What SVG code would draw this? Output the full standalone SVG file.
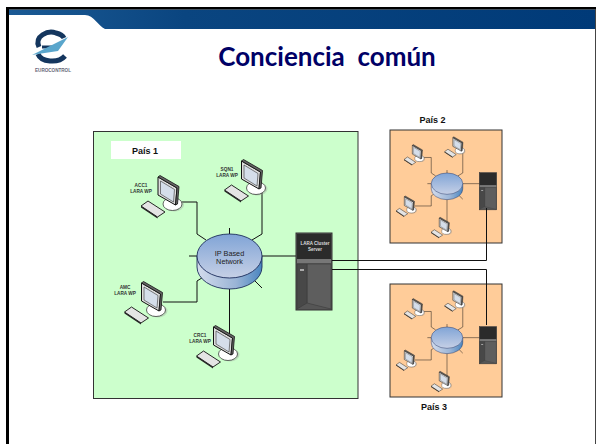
<svg xmlns="http://www.w3.org/2000/svg" width="596" height="444" viewBox="0 0 596 444">
<style>
text{font-family:"Liberation Sans",Arial,sans-serif}
.wp{font-size:4.700px;font-weight:700;fill:#333;text-anchor:middle}
.lbl{font-size:9px;font-weight:700;fill:#111;text-anchor:middle}
.ln{fill:none;stroke:#111;stroke-width:1}
</style>
<defs>
<linearGradient id="band" x1="0" x2="1" y1="0" y2="0"><stop offset="0" stop-color="#1b5a94"/><stop offset=".3" stop-color="#0a4580"/><stop offset="1" stop-color="#003a78"/></linearGradient>
<linearGradient id="hubTop" x1="0" x2="0" y1="0" y2="1"><stop offset="0" stop-color="#80a4d6"/><stop offset="1" stop-color="#c6d0e6"/></linearGradient>
<linearGradient id="hubSide" x1="0" x2="1" y1="0" y2="0"><stop offset="0" stop-color="#d4dcec"/><stop offset=".6" stop-color="#9ab4d6"/><stop offset="1" stop-color="#4a86c0"/></linearGradient>
<g id="pc">
<ellipse cx="2" cy="1" rx="9.500" ry="6.500" fill="#999" opacity=".35"/>
<ellipse cx="0" cy="0" rx="9.500" ry="6.500" fill="#fff" stroke="#222" stroke-width=".7"/>
<path d="M-14.500-27 L4.500-16 L3 1 L-14.500-9Z" fill="#ddd" stroke="#111" stroke-width="1"/>
<path d="M-14.500-27 L-12.500-28.500 L6.500-17.500 L5 0 L3 1 L4.500-16Z" fill="#666" stroke="#111" stroke-width=".8"/>
<path d="M-12-23 L2-14.500 L1-2 L-12-10Z" fill="#d5deea" stroke="#333" stroke-width=".6"/>
<path d="M-31.500 2 L-24.500-3 L-7.500 8 L-15 13Z" fill="#e4e4e4" stroke="#111" stroke-width=".9"/>
<path d="M-31.500 2 L-15 13 L-15 14.500 L-31.500 3.500Z" fill="#222"/>
</g>
<g id="hub">
<path d="M197 256 V267 A32.500 22 0 0 0 262 267 V256Z" fill="url(#hubSide)" stroke="#1c2c5c" stroke-width=".9"/>
<ellipse cx="229.500" cy="256" rx="32.500" ry="22" fill="url(#hubTop)" stroke="#1c2c5c" stroke-width=".9"/>
</g>
<g id="srv">
<rect x="296" y="233" width="36" height="77" fill="#565656" stroke="#333" stroke-width="1"/>
<rect x="297" y="234" width="34" height="25" fill="#2b2b2b"/>
<rect x="297" y="259" width="34" height="4" fill="#777"/>
<path d="M307 264 H331 V309 L307 303Z" fill="#5e5e5e" stroke="#3a3a3a" stroke-width=".6"/>
<path d="M297 309 L307 303 V264 H297Z" fill="#484848" stroke="#3a3a3a" stroke-width=".6"/>
<rect x="300" y="269" width="4" height="2" fill="#aaa"/>
</g>
<g id="wires">
<path class="ln" d="M182 202 H197 V234 L206 240"/>
<path class="ln" d="M262 187 V234 L252 240"/>
<path class="ln" d="M163 302 H197 V281 L205 276"/>
<path class="ln" d="M229.500 288 V347"/>
<path class="ln" d="M229.500 228 V234"/>
<path class="ln" d="M189 256 H197"/>
<path class="ln" d="M252 278 L262 288"/>
<path class="ln" d="M262 256 H301 V261"/>
</g>
</defs>
<rect width="596" height="444" fill="#fff"/>
<g id="slide-frame">
<path d="M9 9.500 H595 V29 H105 C98 26 94 15 85 15 H9Z" fill="url(#band)"/>
<rect x="6" y="7" width="590" height="2.500" fill="#000"/>
<rect x="6" y="7" width="3" height="437" fill="#000"/>
<rect x="595" y="9" width="1" height="435" fill="#444"/>
</g>
<g id="logo">
<path d="M39 47 C34 36 48 30 56 33 C60 34 63 36 64 38" fill="none" stroke="#14365e" stroke-width="5"/>
<path d="M38 54 C41 62 58 64 65 56" fill="none" stroke="#14365e" stroke-width="5"/>
<path d="M42 47 H57" stroke="#14365e" stroke-width="3"/>
<path d="M32 55 L68 37 L58 51 L38 54Z" fill="#5aa6cc"/>
<text x="53" y="72" font-size="4.600" font-weight="700" fill="#667" text-anchor="middle">EUROCONTROL</text>
</g>
<text id="title" x="327" y="65.500" font-size="26" font-weight="700" fill="#000066" style="font-family:Lato,'Liberation Sans',sans-serif" text-anchor="middle" xml:space="preserve">Conciencia  común</text>
<g id="pais1">
<rect x="93.500" y="131.500" width="264.500" height="267" fill="#ccffcc" stroke="#333" stroke-width="1"/>
<rect x="111" y="141" width="70" height="18" fill="#fff"/>
<text class="lbl" x="145" y="154">País 1</text>
</g>
<g id="pais2">
<rect x="390" y="130" width="112" height="113" fill="#ffcc99" stroke="#333" stroke-width="1"/>
<text class="lbl" x="432.500" y="122.500">País 2</text>
</g>
<g id="pais3">
<rect x="390" y="284" width="112" height="113" fill="#ffcc99" stroke="#333" stroke-width="1"/>
<text class="lbl" x="434" y="410">País 3</text>
</g>
<g id="local-wires">
<use href="#wires"/>
<use href="#wires" transform="translate(335.700 59.500) scale(.485)"/>
<use href="#wires" transform="translate(335.700 213.500) scale(.485)"/>
</g>
<g id="acc1"><use href="#pc" x="172.500" y="204"/><text class="wp"><tspan x="141" y="187">ACC1</tspan><tspan x="141" y="193">LARA WP</tspan></text></g>
<g id="sqn1"><use href="#pc" x="256" y="188"/><text class="wp"><tspan x="227" y="171">SQN1</tspan><tspan x="227" y="176.500">LARA WP</tspan></text></g>
<g id="amc"><use href="#pc" x="156" y="310"/><text class="wp"><tspan x="125" y="289">AMC</tspan><tspan x="125" y="294.500">LARA WP</tspan></text></g>
<g id="crc1"><use href="#pc" x="228" y="354"/><text class="wp"><tspan x="200" y="337">CRC1</tspan><tspan x="200" y="342.500">LARA WP</tspan></text></g>
<g id="ip-network"><use href="#hub"/><text font-size="7.300" fill="#222" text-anchor="middle"><tspan x="229.500" y="256">IP Based</tspan><tspan x="229.500" y="264">Network</tspan></text></g>
<g id="cluster-server"><use href="#srv"/><text font-size="4.500" font-weight="700" fill="#ddd" text-anchor="middle"><tspan x="315" y="245">LARA Cluster</tspan><tspan x="315" y="250.500">Server</tspan></text></g>
<g id="net2" transform="translate(335.700 59.500) scale(.485)">
<use href="#pc" x="172.500" y="204"/><use href="#pc" x="256" y="188"/><use href="#pc" x="156" y="310"/><use href="#pc" x="228" y="354"/><use href="#hub"/><use href="#srv"/>
</g>
<g id="net3" transform="translate(335.700 213.500) scale(.485)">
<use href="#pc" x="172.500" y="204"/><use href="#pc" x="256" y="188"/><use href="#pc" x="156" y="310"/><use href="#pc" x="228" y="354"/><use href="#hub"/><use href="#srv"/>
</g>
<g id="connectors">
<path class="ln" d="M332 260.500 H486.500 V208"/>
<path class="ln" d="M332 269.500 H486.500 V325"/>
</g>
</svg>
